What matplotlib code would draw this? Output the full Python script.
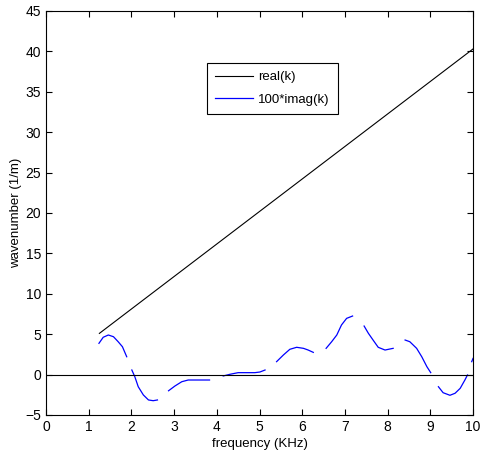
import numpy as np
import matplotlib.pyplot as plt

plt.rcParams['font.family'] = ['Liberation Sans', 'DejaVu Sans']

# real part of k, straight line
freq_real = [1.25, 10.0]
real_k = [5.1, 40.3]

# 100*imag(k), nan = gap in the curve
freq_imag = [1.24, 1.34, 1.46, 1.58, 1.69, 1.79, 1.89, np.nan,
             2.01, 2.08, 2.16, 2.28, 2.40, 2.51, 2.61, np.nan,
             2.87, 3.02, 3.18, 3.33, 3.57, 3.83, np.nan,
             4.15, 4.31, 4.50, 4.74, 4.89, 5.01, 5.13, np.nan,
             5.40, 5.56, 5.71, 5.87, 6.03, 6.14, 6.26, np.nan,
             6.56, 6.69, 6.81, 6.92, 7.04, 7.18, np.nan,
             7.45, 7.55, 7.67, 7.78, 7.94, 8.02, 8.13, np.nan,
             8.41, 8.52, 8.68, 8.80, 8.92, 9.01, np.nan,
             9.19, 9.30, 9.46, 9.58, 9.70, 9.81, 9.87, np.nan,
             9.97, 10.0]
imag_k = [3.87, 4.62, 4.90, 4.69, 4.07, 3.45, 2.21, np.nan,
          0.57, -0.26, -1.50, -2.52, -3.14, -3.23, -3.14, np.nan,
          -2.0, -1.41, -0.88, -0.67, -0.67, -0.67, np.nan,
          -0.17, 0.04, 0.24, 0.24, 0.24, 0.32, 0.57, np.nan,
          1.60, 2.43, 3.13, 3.38, 3.25, 3.04, 2.75, np.nan,
          3.25, 4.07, 4.90, 6.14, 6.96, 7.25, np.nan,
          6.01, 5.11, 4.20, 3.38, 3.04, 3.13, 3.25, np.nan,
          4.28, 4.07, 3.25, 2.21, 0.98, 0.24, np.nan,
          -1.50, -2.24, -2.56, -2.31, -1.70, -0.67, -0.05, np.nan,
          1.6, 2.0]

fig = plt.figure(figsize=(4.8, 4.62), dpi=100)
ax = fig.add_axes([46/480, 1-415/462, 427/480, 404/462])

ax.plot(freq_real, real_k, color='black', lw=0.8, label='real(k)')
ax.plot(freq_imag, imag_k, color='blue', lw=0.9, label='100*imag(k)')
ax.axhline(0, color='black', lw=0.8)

ax.set_xlim(0, 10)
ax.set_ylim(-5, 45)
ax.set_xticks(range(0, 11))
ax.set_yticks(range(-5, 46, 5))
ax.tick_params(direction='in', top=True, right=True, labelsize=10, length=4, width=0.8)
for s in ax.spines.values():
    s.set_linewidth(0.8)

ax.set_xlabel('frequency (KHz)', fontsize=9.5, labelpad=3)
ax.set_ylabel('wavenumber (1/m)', fontsize=9.5, labelpad=2)

leg = ax.legend(loc='upper left', bbox_to_anchor=(0.377, 0.871), borderaxespad=0,
                fontsize=9.5, fancybox=False, edgecolor='black', framealpha=1,
                handlelength=2.9, handletextpad=0.4, borderpad=0.6, labelspacing=0.8)
leg.get_frame().set_linewidth(0.8)

fig.savefig('out.png', dpi=100)
